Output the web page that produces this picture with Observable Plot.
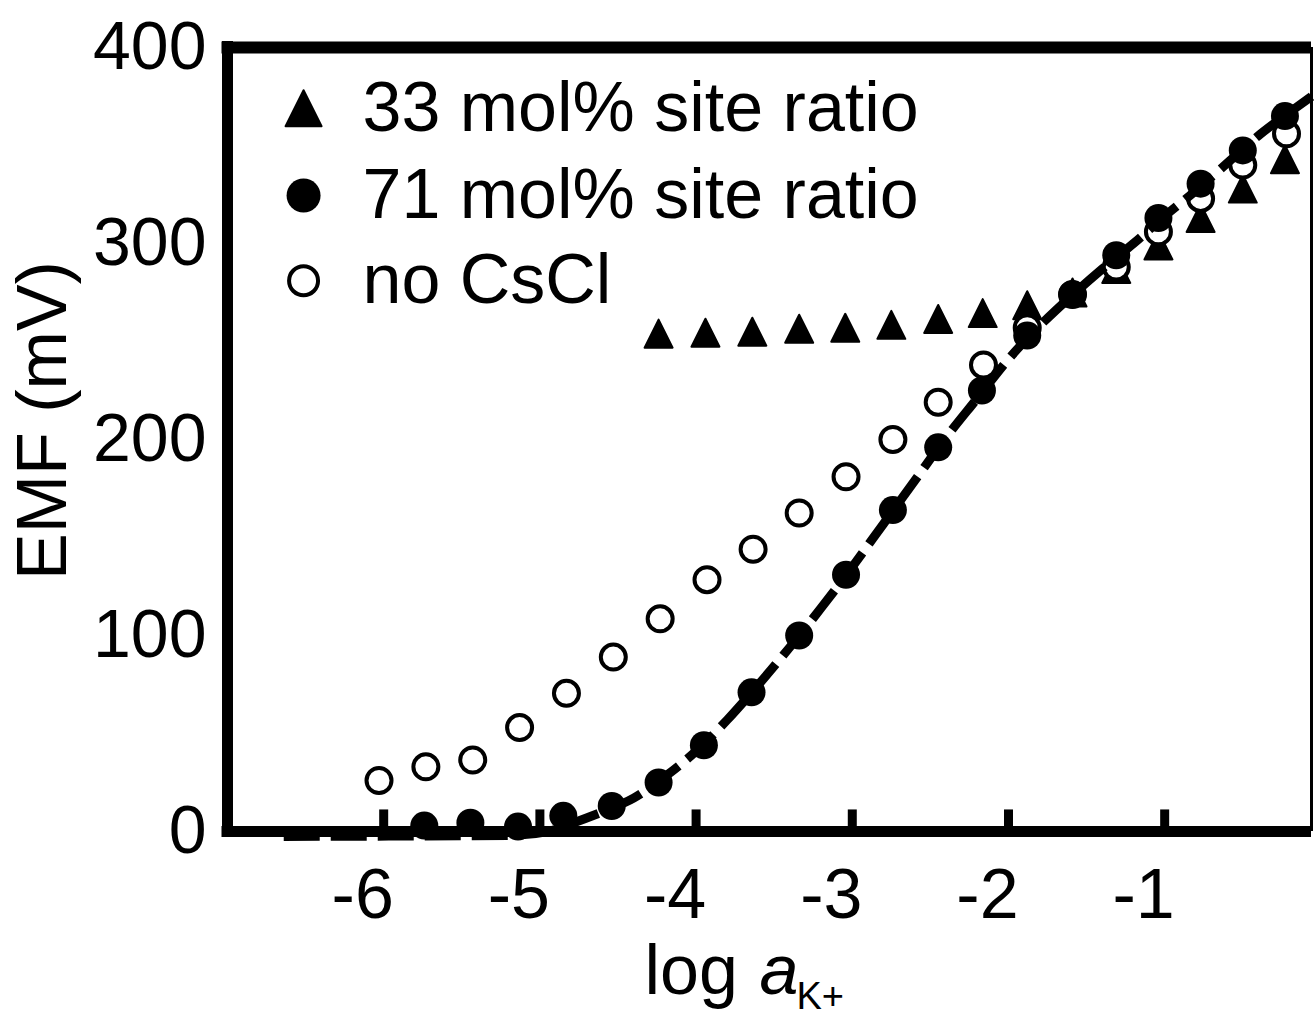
<!DOCTYPE html>
<html><head><meta charset="utf-8">
<script src="https://cdn.jsdelivr.net/npm/d3@7"></script>
<script src="https://cdn.jsdelivr.net/npm/@observablehq/plot@0.6"></script>
<style>
html,body{margin:0;padding:0;background:#fff;}
svg{display:block}
</style></head><body><div id="chart"></div>
<script>
// ---- data ----
const xTicks = [-6, -5, -4, -3, -2, -1];
const yTicks = [0, 100, 200, 300, 400];
const legendLabels = ["33 mol% site ratio", "71 mol% site ratio", "no CsCl"];

// 33 mol% site ratio (filled triangles)
const site33X = [-4.24, -3.94, -3.64, -3.34, -3.045, -2.75, -2.45, -2.165, -1.88, -1.59, -1.31, -1.04, -0.77, -0.50, -0.23];
const site33Y = [254, 254.5, 255, 256.5, 257, 258.5, 261.5, 264.5, 268.5, 275, 287, 299, 313, 328, 343];

// 71 mol% site ratio (filled circles)
const site71X = [-5.74, -5.445, -5.14, -4.85, -4.54, -4.24, -3.95, -3.645, -3.34, -3.04, -2.74, -2.45, -2.17, -1.88, -1.59, -1.31, -1.04, -0.77, -0.50, -0.23];
const site71Y = [3, 4.5, 2.5, 8, 13, 25, 44, 71, 100, 131, 164, 196, 225, 253, 274, 294, 313, 330.5, 347.5, 365];

// no CsCl (open circles)
const noCsClX = [-6.03, -5.73, -5.43, -5.13, -4.83, -4.53, -4.23, -3.93, -3.635, -3.34, -3.04, -2.74, -2.45, -2.16, -1.88, -1.59, -1.31, -1.04, -0.77, -0.50, -0.22];
const noCsClY = [26, 33, 36.5, 53, 70.5, 89, 108.5, 128.5, 144, 162.5, 181, 200, 219, 238, 257, 274, 288, 306, 323, 340, 356];

// dashed fit curve
const fitX = [-6.64, -5.2, -4.95, -4.8, -4.6, -4.4, -4.2, -4.0, -3.8, -3.6, -3.4, -3.2, -3.0, -2.8, -2.6, -2.4, -2.2, -2.0, -1.8, -1.6, -1.4, -1.2, -1.0, -0.8, -0.6, -0.4, -0.2, -0.06];
const fitY = [-2.5, -2, 0, 4, 10, 17, 28, 41, 57, 75, 94, 114, 135, 157, 179, 201, 221, 241, 258, 273, 287, 300, 314, 327, 341, 355, 367, 375];

// ---- tables ----
const zip = (xs, ys) => xs.map((x, i) => ({x, y: ys[i]}));
const tri33 = zip(site33X, site33Y);
const dot71 = zip(site71X, site71Y);
const open0 = zip(noCsClX, noCsClY);
const fit = zip(fitX, fitY);

const triangle = {
  draw(ctx, size) {
    const r = Math.sqrt(size / Math.PI);
    ctx.moveTo(0, -r);
    ctx.lineTo(r, r);
    ctx.lineTo(-r, r);
    ctx.closePath();
  }
};

const FONT = "Liberation Sans, Arial, Helvetica, sans-serif";
const legX = -6.513, legTextX = -6.136;
const legY = [369, 324.5, 281];

const chart = Plot.plot({
  width: 1314,
  height: 1017,
  marginLeft: 227,
  marginRight: 3,
  marginTop: 47,
  marginBottom: 186,
  style: {fontFamily: FONT, background: "#fff", color: "#000", overflow: "visible"},
  x: {domain: [-7, -0.06], axis: null},
  y: {domain: [0, 400], axis: null},
  marks: [
    // frame
    Plot.ruleY([400], {stroke: "#000", strokeWidth: 12, insetLeft: -5.5}),
    Plot.ruleX([-7], {stroke: "#000", strokeWidth: 11, insetTop: -6, insetBottom: -5.5}),
    Plot.ruleY([0], {stroke: "#000", strokeWidth: 11, insetLeft: -5.5}),
    Plot.ruleX([-0.06], {stroke: "#000", strokeWidth: 3}),
    // inward ticks
    Plot.ruleX(xTicks, {x: d => d, y1: 0, y2: 11, stroke: "#000", strokeWidth: 9}),
    // tick labels
    Plot.axisX(xTicks, {tickSize: 0, tickPadding: 37, fontSize: 70, dx: -21, tickFormat: d => String(d), label: null, fill: "#000"}),
    Plot.axisY(yTicks, {tickSize: 0, tickPadding: 21, fontSize: 68, tickFormat: d => String(d), label: null, fill: "#000"}),
    // data
    Plot.dot(tri33, {x: "x", y: "y", symbol: triangle, r: 14, fill: "#000", stroke: "#000", strokeWidth: 2, strokeLinejoin: "round"}),
    Plot.dot(open0, {x: "x", y: "y", r: 12.5, fill: "#fff", stroke: "#000", strokeWidth: 4}),
    Plot.line(fit, {x: "x", y: "y", curve: "monotone-x", stroke: "#000", strokeWidth: 9, strokeDasharray: "36,11", strokeLinecap: "butt"}),
    Plot.dot(dot71, {x: "x", y: "y", r: 14, fill: "#000", stroke: "none"}),
    // legend
    Plot.dot([0], {x: () => legX, y: () => legY[0], symbol: triangle, r: 18, fill: "#000", stroke: "#000", strokeWidth: 2, strokeLinejoin: "round"}),
    Plot.dot([0], {x: () => legX, y: () => legY[1], r: 17, fill: "#000"}),
    Plot.dot([0], {x: () => legX, y: () => legY[2], r: 14.5, fill: "#fff", stroke: "#000", strokeWidth: 4}),
    Plot.text(legendLabels, {x: () => legTextX, y: (d, i) => legY[i], text: d => d, textAnchor: "start", lineAnchor: "middle", fontSize: 70, fill: "#000"}),
    // axis titles
    Plot.text(["log"], {text: d => d, frameAnchor: "bottom-left", dx: 417, dy: 162, textAnchor: "start", lineAnchor: "bottom", fontSize: 70, fill: "#000"}),
    Plot.text(["a"], {text: d => d, frameAnchor: "bottom-left", dx: 532, dy: 162, textAnchor: "start", lineAnchor: "bottom", fontSize: 70, fontStyle: "italic", fill: "#000"}),
    Plot.text(["K+"], {text: d => d, frameAnchor: "bottom-left", dx: 569, dy: 177, textAnchor: "start", lineAnchor: "bottom", fontSize: 38, fill: "#000"}),
    Plot.text(["EMF (mV)"], {text: d => d, frameAnchor: "left", dx: -162, dy: -19, rotate: -90, textAnchor: "middle", lineAnchor: "bottom", fontSize: 70, fill: "#000"})
  ]
});
document.getElementById("chart").appendChild(chart);
</script>
</body></html>
